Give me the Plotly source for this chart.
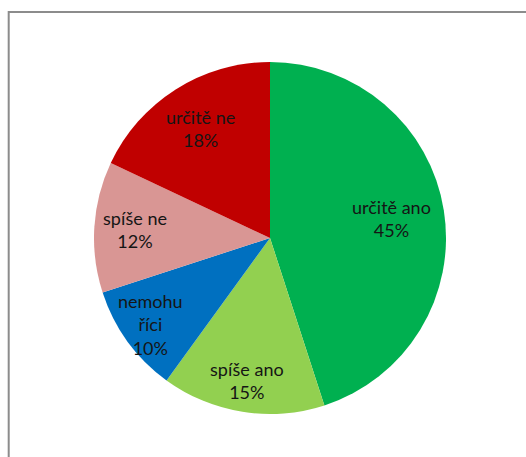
import math
import plotly.graph_objects as go

# Survey answers, clockwise from 12 o'clock
categories = ["určitě ano", "spíše ano", "nemohu<br>říci", "spíše ne", "určitě ne"]
values = [45, 15, 10, 12, 18]
colors = ["#00B050", "#92D050", "#0070C0", "#D99694", "#C00000"]
# how far out each label sits, as a fraction of the radius
label_radius = [0.70, 0.82, 0.84, 0.77, 0.74]

W, H = 526, 457
M_L, M_R, M_T, M_B = 94, 80, 62, 43
PW, PH = W - M_L - M_R, H - M_T - M_B


def px_to_paper(x, y):
    return (x - M_L) / PW, (H - M_B - y) / PH


fig = go.Figure(
    go.Pie(
        labels=categories,
        values=values,
        marker=dict(colors=colors, line=dict(width=0)),
        sort=False,
        direction="clockwise",
        rotation=0,
        textinfo="none",
        hoverinfo="skip",
        showlegend=False,
    )
)

# Labels placed along each slice's bisector
total = sum(values)
cum = 0.0
annotations = []
for cat, v, f in zip(categories, values, label_radius):
    mid = (cum + v / 2) / total * 2 * math.pi
    cum += v
    x = 0.5 + 0.5 * f * math.sin(mid)
    y = 0.5 + 0.5 * f * math.cos(mid)
    pct = round(v / total * 100)
    annotations.append(
        dict(
            x=x, y=y, xref="paper", yref="paper",
            text=f"{cat}<br>{pct}%",
            showarrow=False,
            xanchor="center", yanchor="middle",
            font=dict(family="Lato", size=18, color="#151515"),
        )
    )

# Chart-area frame (runs off the right and bottom edges)
x0, y0 = px_to_paper(8.7, 12)
x1, y1 = px_to_paper(W + 20, H + 20)
shapes = [
    dict(type="rect", xref="paper", yref="paper",
         x0=x0, y0=y1, x1=x1, y1=y0,
         line=dict(color="#8c8c8c", width=2), fillcolor="rgba(0,0,0,0)")
]

fig.update_layout(
    width=W, height=H,
    margin=dict(l=M_L, r=M_R, t=M_T, b=M_B, pad=0),
    paper_bgcolor="white",
    plot_bgcolor="white",
    annotations=annotations,
    shapes=shapes,
)

fig.write_html("out.html")
